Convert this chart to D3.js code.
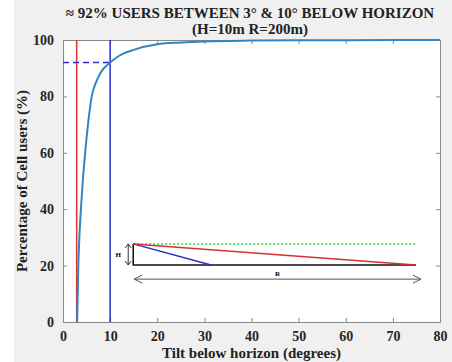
<!DOCTYPE html>
<html><head><meta charset="utf-8">
<script src="https://cdn.jsdelivr.net/npm/d3@7"></script>
<style>
body{margin:0;background:#fff;}
text{font-family:"Liberation Serif","DejaVu Serif",serif;font-weight:bold;}
</style></head>
<body><div id="chart"></div>
<script>
// curve: tilt (deg) -> % of users
const tilt = [3.0, 3.1, 3.25, 3.5, 3.8, 4.2, 4.7, 5.3, 6.1, 7, 8, 10, 12, 15, 20, 25, 30, 40, 50, 60, 80];
const users = [0, 8, 20, 31, 40, 50, 60, 70, 80, 85, 88.5, 92, 94.5, 96.5, 98.5, 99.1, 99.5, 99.8, 99.9, 99.95, 100];
const xTicks = [0, 10, 20, 30, 40, 50, 60, 70, 80];
const yTicks = [0, 20, 40, 60, 80, 100];
const lowTilt = 2.9, highTilt = 10, pctAtHigh = 92;
const title1 = "\u2248 92% USERS BETWEEN 3\u00b0 & 10\u00b0 BELOW HORIZON";
const title2 = "(H=10m R=200m)";
// inset sketch, in axis units
const inset = {x0: 14.9, x1: 74.9, xBlue: 31.4, yTop: 27.7, yBase: 20.2, yArrow: 15.2};

const width = 452, height = 362;
const margin = {left: 63, right: 12, top: 40, bottom: 40};

const svg = d3.select("#chart").append("svg").attr("width", width).attr("height", height);
svg.append("rect").attr("x", 14).attr("width", width - 14).attr("height", height).attr("fill", "#f0f0f0");

const x = d3.scaleLinear().domain([0, 80]).range([margin.left, width - margin.right]);
const y = d3.scaleLinear().domain([0, 100]).range([height - margin.bottom, margin.top]);

svg.append("rect").attr("x", x(0)).attr("y", y(100))
    .attr("width", x(80) - x(0)).attr("height", y(0) - y(100)).attr("fill", "#fff");

// axes (MATLAB style, ticks inward)
const xAxis = svg.append("g").attr("transform", `translate(0,${y(0)})`)
    .call(d3.axisBottom(x).tickValues(xTicks).tickSizeInner(-4).tickSizeOuter(0).tickPadding(9));
const yAxis = svg.append("g").attr("transform", `translate(${x(0)},0)`)
    .call(d3.axisLeft(y).tickValues(yTicks).tickSizeInner(-4).tickSizeOuter(0).tickPadding(9));
svg.append("g").attr("transform", `translate(0,${y(100)})`)
    .call(d3.axisTop(x).tickValues(xTicks).tickSizeInner(-4).tickSizeOuter(0).tickFormat(""));
svg.append("g").attr("transform", `translate(${x(80)},0)`)
    .call(d3.axisRight(y).tickValues(yTicks).tickSizeInner(-4).tickSizeOuter(0).tickFormat(""));
svg.selectAll(".domain, .tick line").attr("stroke", "#888");
svg.selectAll(".tick text").attr("font-size", 14).attr("fill", "#262626")
    .attr("font-family", "Liberation Serif, serif").attr("font-weight", "bold");

// reference lines
svg.append("line").attr("x1", x(lowTilt)).attr("x2", x(lowTilt)).attr("y1", y(0)).attr("y2", y(100))
    .attr("stroke", "#e03030").attr("stroke-width", 1.5);
svg.append("line").attr("x1", x(highTilt)).attr("x2", x(highTilt)).attr("y1", y(0)).attr("y2", y(100))
    .attr("stroke", "#2a2ad0").attr("stroke-width", 1.5);
svg.append("line").attr("x1", x(0)).attr("x2", x(highTilt)).attr("y1", y(pctAtHigh)).attr("y2", y(pctAtHigh))
    .attr("stroke", "#2a2ad0").attr("stroke-width", 1.5).attr("stroke-dasharray", "6,4");

// curve
const line = d3.line().x(d => x(d[0])).y(d => y(d[1])).curve(d3.curveMonotoneX);
svg.append("path").datum(d3.zip(tilt, users)).attr("d", line)
    .attr("fill", "none").attr("stroke", "#2f86c4").attr("stroke-width", 2);

// inset sketch
const g = svg.append("g").attr("fill", "none");
g.append("line").attr("x1", x(inset.x0)).attr("x2", x(inset.x1)).attr("y1", y(inset.yTop)).attr("y2", y(inset.yTop))
    .attr("stroke", "#3ad13a").attr("stroke-width", 1.5).attr("stroke-dasharray", "2,2");
g.append("path").attr("d", `M${x(inset.x0)},${y(inset.yTop)}V${y(inset.yBase)}H${x(inset.x1)}`)
    .attr("stroke", "#111").attr("stroke-width", 1.5);
g.append("line").attr("x1", x(inset.x0)).attr("y1", y(inset.yTop)).attr("x2", x(inset.xBlue)).attr("y2", y(inset.yBase))
    .attr("stroke", "#2a2ad0").attr("stroke-width", 1.5);
g.append("line").attr("x1", x(inset.x0)).attr("y1", y(inset.yTop)).attr("x2", x(inset.x1)).attr("y2", y(inset.yBase))
    .attr("stroke", "#d83030").attr("stroke-width", 1.5);
// H arrow
const hx = x(inset.x0) - 5;
g.append("path").attr("d", `M${hx},${y(inset.yTop)}V${y(inset.yBase)}M${hx-3},${y(inset.yTop)+4}L${hx},${y(inset.yTop)}L${hx+3},${y(inset.yTop)+4}M${hx-3},${y(inset.yBase)-4}L${hx},${y(inset.yBase)}L${hx+3},${y(inset.yBase)-4}`)
    .attr("stroke", "#333").attr("stroke-width", 1);
// R arrow
const ay = y(inset.yArrow), ax0 = x(inset.x0) + 1, ax1 = x(inset.x1) + 5;
g.append("path").attr("d", `M${ax0},${ay}H${ax1}M${ax0+8},${ay-4}L${ax0},${ay}L${ax0+8},${ay+4}M${ax1-8},${ay-4}L${ax1},${ay}L${ax1-8},${ay+4}`)
    .attr("stroke", "#555").attr("stroke-width", 1);
svg.append("text").attr("x", hx - 10).attr("y", (y(inset.yTop) + y(inset.yBase)) / 2 + 3)
    .attr("font-size", 7).attr("text-anchor", "middle").text("H");
svg.append("text").attr("x", (ax0 + ax1) / 2).attr("y", ay - 3)
    .attr("font-size", 7).attr("text-anchor", "middle").text("R");

// titles
svg.append("text").attr("x", 250).attr("y", 18).attr("text-anchor", "middle")
    .attr("font-size", 15).attr("fill", "#222").text(title1);
svg.append("text").attr("x", 250).attr("y", 34).attr("text-anchor", "middle")
    .attr("font-size", 15).attr("fill", "#222").text(title2);
svg.append("text").attr("x", (x(0) + x(80)) / 2).attr("y", height - 4).attr("text-anchor", "middle")
    .attr("font-size", 15).attr("fill", "#222").text("Tilt below horizon (degrees)");
svg.append("text").attr("transform", `translate(27,${(y(0) + y(100)) / 2}) rotate(-90)`)
    .attr("text-anchor", "middle").attr("font-size", 15).attr("fill", "#222")
    .text("Percentage of Cell users (%)");
</script></body></html>
